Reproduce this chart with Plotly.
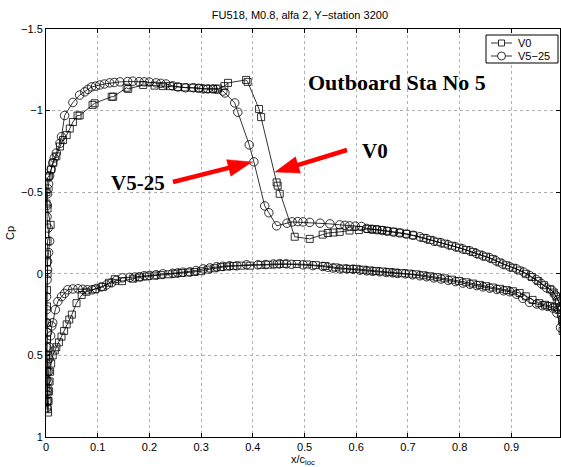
import math
import plotly.graph_objects as go

# ---------------- data ----------------
v525_x = [0.999, 0.995, 0.99, 0.985, 0.978, 0.968, 0.958, 0.948, 0.936, 0.924, 0.91, 0.897, 0.883, 0.87,
          0.858, 0.845, 0.832, 0.82, 0.806, 0.792, 0.778, 0.764, 0.75, 0.736, 0.723, 0.71, 0.697, 0.684,
          0.672, 0.66, 0.65, 0.64, 0.63, 0.62, 0.61, 0.598, 0.587, 0.578, 0.568, 0.549, 0.53, 0.51, 0.497,
          0.487, 0.476, 0.466, 0.446, 0.431, 0.423, 0.402, 0.393, 0.371, 0.365, 0.346, 0.342, 0.33, 0.323,
          0.313, 0.304, 0.295, 0.285, 0.27, 0.255, 0.245, 0.232, 0.222, 0.213, 0.2, 0.19, 0.18, 0.168,
          0.158, 0.143, 0.132, 0.123, 0.113, 0.104, 0.096, 0.088, 0.081, 0.075, 0.065, 0.052, 0.036, 0.03,
          0.027, 0.02, 0.016, 0.013, 0.01, 0.007, 0.005, 0.004, 0.003, 0.0025, 0.002, 0.004, 0.007, 0.005,
          0.003, 0.003, 0.002, 0.001, 0.001, 0.001, 0.003, 0.001, 0.001, 0.001, 0.002, 0.002, 0.002,
          0.003, 0.004, 0.005, 0.006, 0.007, 0.009, 0.011, 0.013, 0.018, 0.023, 0.03, 0.036, 0.042, 0.052,
          0.062, 0.071, 0.08, 0.089, 0.097, 0.107, 0.117, 0.127, 0.136, 0.148, 0.162, 0.172, 0.181, 0.19,
          0.2, 0.213, 0.226, 0.245, 0.255, 0.265, 0.278, 0.29, 0.304, 0.317, 0.33, 0.342, 0.355, 0.369,
          0.388, 0.41, 0.425, 0.44, 0.452, 0.465, 0.475, 0.497, 0.516, 0.535, 0.545, 0.555, 0.568, 0.581,
          0.594, 0.607, 0.62, 0.632, 0.645, 0.658, 0.67, 0.68, 0.695, 0.709, 0.723, 0.736, 0.75, 0.764,
          0.778, 0.792, 0.806, 0.82, 0.833, 0.845, 0.858, 0.872, 0.885, 0.897, 0.91, 0.922, 0.935, 0.949,
          0.96, 0.97, 0.98, 0.988, 0.995, 0.999]
v525_cp = [0.3, 0.2, 0.16, 0.13, 0.1, 0.086, 0.06, 0.035, 0.012, -0.01, -0.03, -0.043, -0.06, -0.08,
           -0.098, -0.11, -0.125, -0.14, -0.152, -0.165, -0.178, -0.19, -0.2, -0.215, -0.227, -0.236, -0.243,
           -0.25, -0.255, -0.26, -0.265, -0.27, -0.273, -0.278, -0.29, -0.292, -0.294, -0.297, -0.3, -0.306,
           -0.31, -0.315, -0.318, -0.32, -0.318, -0.31, -0.294, -0.374, -0.416, -0.686, -0.79, -0.99, -1.047,
           -1.108, -1.12, -1.13, -1.133, -1.133, -1.133, -1.137, -1.14, -1.14, -1.145, -1.152, -1.163,
           -1.167, -1.17, -1.175, -1.176, -1.177, -1.18, -1.178, -1.176, -1.172, -1.17, -1.163, -1.157,
           -1.15, -1.145, -1.13, -1.115, -1.095, -1.05, -0.97, -0.84, -0.8, -0.74, -0.71, -0.68, -0.64,
           -0.6, -0.55, -0.52, -0.49, -0.42, -0.35, -0.28, -0.2, -0.13, -0.075, -0.025, 0.037, 0.14, 0.22,
           0.3, 0.36, 0.45, 0.55, 0.65, 0.74, 0.82, 0.78, 0.72, 0.66, 0.6, 0.52, 0.45, 0.38, 0.32, 0.3,
           0.22, 0.17, 0.14, 0.12, 0.098, 0.093, 0.092, 0.095, 0.098, 0.098, 0.09, 0.08, 0.068, 0.055, 0.04,
           0.025, 0.022, 0.02, 0.018, 0.012, 0.01, 0.006, 0.0, -0.003, -0.006, -0.01, -0.012, -0.02, -0.03,
           -0.036, -0.043, -0.046, -0.049, -0.049, -0.055, -0.055, -0.057, -0.06, -0.062, -0.061, -0.058,
           -0.055, -0.05, -0.045, -0.04, -0.035, -0.03, -0.03, -0.028, -0.022, -0.018, -0.015, -0.012,
           -0.008, -0.006, -0.002, 0.0, 0.006, 0.012, 0.018, 0.025, 0.032, 0.04, 0.048, 0.057, 0.064, 0.072,
           0.08, 0.088, 0.096, 0.104, 0.11, 0.125, 0.15, 0.175, 0.185, 0.195, 0.2, 0.21, 0.24, 0.33]

v0_x = [0.999, 0.996, 0.992, 0.987, 0.982, 0.975, 0.963, 0.952, 0.94, 0.928, 0.916, 0.903, 0.89, 0.877,
        0.864, 0.851, 0.838, 0.826, 0.813, 0.799, 0.785, 0.771, 0.757, 0.743, 0.73, 0.71, 0.697, 0.684,
        0.672, 0.66, 0.65, 0.64, 0.631, 0.622, 0.605, 0.587, 0.568, 0.556, 0.545, 0.535, 0.51, 0.481,
        0.452, 0.448, 0.446, 0.416, 0.412, 0.39, 0.387, 0.352, 0.345, 0.333, 0.323, 0.31, 0.296, 0.282,
        0.268, 0.255, 0.24, 0.226, 0.21, 0.188, 0.159, 0.156, 0.13, 0.127, 0.094, 0.09, 0.065, 0.061,
        0.052, 0.046, 0.04, 0.033, 0.027, 0.02, 0.014, 0.01, 0.006, 0.003, 0.001, 0.001, 0.003, 0.009,
        0.003, 0.002, 0.002, 0.003, 0.002, 0.002, 0.002, 0.002, 0.003, 0.003, 0.003, 0.003, 0.003, 0.004,
        0.005, 0.006, 0.007, 0.008, 0.01, 0.013, 0.017, 0.02, 0.025, 0.03, 0.035, 0.04, 0.045, 0.05,
        0.059, 0.069, 0.078, 0.095, 0.11, 0.122, 0.133, 0.147, 0.168, 0.18, 0.195, 0.21, 0.222, 0.237,
        0.25, 0.262, 0.275, 0.287, 0.3, 0.313, 0.326, 0.338, 0.35, 0.362, 0.378, 0.395, 0.415, 0.43,
        0.447, 0.46, 0.485, 0.505, 0.522, 0.54, 0.56, 0.575, 0.588, 0.6, 0.614, 0.626, 0.638, 0.651,
        0.664, 0.676, 0.688, 0.702, 0.716, 0.73, 0.743, 0.757, 0.771, 0.785, 0.799, 0.813, 0.826, 0.839,
        0.851, 0.864, 0.878, 0.891, 0.903, 0.916, 0.928, 0.941, 0.954, 0.965, 0.975, 0.984, 0.991, 0.997,
        0.999]
v0_cp = [0.28, 0.22, 0.17, 0.14, 0.115, 0.095, 0.07, 0.045, 0.02, 0.0, -0.02, -0.037, -0.052, -0.07,
         -0.09, -0.105, -0.118, -0.133, -0.146, -0.16, -0.172, -0.185, -0.196, -0.208, -0.22, -0.236,
         -0.245, -0.252, -0.258, -0.263, -0.268, -0.271, -0.273, -0.275, -0.268, -0.265, -0.257, -0.253,
         -0.25, -0.24, -0.214, -0.227, -0.49, -0.54, -0.56, -0.96, -1.01, -1.176, -1.188, -1.17, -1.15,
         -1.135, -1.133, -1.133, -1.137, -1.14, -1.142, -1.145, -1.15, -1.15, -1.153, -1.157, -1.133,
         -1.14, -1.085, -1.085, -1.045, -1.035, -0.97, -0.97, -0.93, -0.89, -0.85, -0.82, -0.78, -0.72,
         -0.68, -0.64, -0.6, -0.59, -0.5, -0.43, -0.4, -0.3, -0.2, -0.12, -0.07, 0.0, 0.1, 0.2, 0.3, 0.4,
         0.5, 0.6, 0.7, 0.78, 0.83, 0.85, 0.78, 0.72, 0.66, 0.6, 0.55, 0.5, 0.47, 0.45, 0.42, 0.385, 0.35,
         0.31, 0.28, 0.25, 0.18, 0.13, 0.11, 0.095, 0.08, 0.055, 0.033, 0.045, 0.03, 0.022, 0.016, 0.011,
         0.008, 0.003, -0.001, -0.005, -0.008, -0.011, -0.016, -0.026, -0.034, -0.041, -0.045, -0.048,
         -0.05, -0.05, -0.055, -0.056, -0.058, -0.061, -0.06, -0.057, -0.053, -0.048, -0.039, -0.032,
         -0.03, -0.03, -0.025, -0.02, -0.017, -0.014, -0.01, -0.007, -0.004, -0.001, 0.003, 0.009, 0.015,
         0.021, 0.028, 0.036, 0.044, 0.052, 0.06, 0.068, 0.076, 0.084, 0.092, 0.1, 0.107, 0.118, 0.138,
         0.16, 0.18, 0.19, 0.197, 0.205, 0.22, 0.25, 0.35]

x_ticks = [0, 0.1, 0.2, 0.3, 0.4, 0.5, 0.6, 0.7, 0.8, 0.9]
y_ticks = [-1.5, -1, -0.5, 0, 0.5, 1]
y_ticklabels = ["\u22121.5", "\u22121", "\u22120.5", "0", "0.5", "1"]

title_text = "FU518, M0.8, alfa 2, Y\u2212station 3200"
x_title = "x/c<sub>loc</sub>"
y_title = "Cp"
series_names = ["V0", "V5\u221225"]

# ---------------- layout geometry (pixels) ----------------
W, H = 561, 467
ML, MR, MT, MB = 46, 1, 29, 30
PW, PH = W - ML - MR, H - MT - MB


def px2x(px):
    return (px - ML) / PW


def py2y(py):
    return (H - MB - py) / PH


font_sans = "Liberation Sans, Arial"
font_serif = "Liberation Serif, Times New Roman"

# ---------------- figure ----------------
fig = go.Figure()
fig.add_trace(go.Scatter(
    x=v0_x, y=v0_cp, name=series_names[0], mode="lines+markers",
    line=dict(color="black", width=0.8),
    marker=dict(symbol="square-open", size=7, color="black", line=dict(width=0.8)),
))
fig.add_trace(go.Scatter(
    x=v525_x, y=v525_cp, name=series_names[1], mode="lines+markers",
    line=dict(color="black", width=0.8),
    marker=dict(symbol="circle-open", size=8.5, color="black", line=dict(width=0.8)),
))

axis_common = dict(
    showline=True, linecolor="black", linewidth=1, mirror="ticks",
    ticks="inside", ticklen=4, tickcolor="black",
    showgrid=True, gridcolor="#b0b0b0", griddash="dot", gridwidth=1,
    zeroline=False, automargin=False,
    tickfont=dict(family=font_sans, size=11, color="black"),
)

fig.update_xaxes(range=[0, 0.994], tickvals=x_ticks, ticktext=[str(t) for t in x_ticks],
                 title=dict(text=x_title, standoff=1, font=dict(family=font_sans, size=11, color="black")),
                 **axis_common)
fig.update_yaxes(range=[1, -1.5], autorange=False, tickvals=y_ticks, ticktext=y_ticklabels,
                 title=dict(text=y_title, standoff=4, font=dict(family=font_sans, size=11, color="black")),
                 **axis_common)

annotations = [
    dict(text="<b>Outboard Sta No 5</b>", x=0.679, y=-1.171, xref="x", yref="y", showarrow=False,
         font=dict(family=font_serif, size=22, color="black"), xanchor="center", yanchor="middle"),
    dict(text="<b>V0</b>", x=0.636, y=-0.753, xref="x", yref="y", showarrow=False,
         font=dict(family=font_serif, size=21, color="black"), xanchor="center", yanchor="middle"),
    dict(text="<b>V5-25</b>", x=0.177, y=-0.557, xref="x", yref="y", showarrow=False,
         font=dict(family=font_serif, size=21, color="black"), xanchor="center", yanchor="middle"),
]

shapes = []


# ---------------- red pointer arrows (pixel geometry -> paper) ----------------
def add_arrow(tail, tip, width=4.5, head_len=24, head_half=8.5):
    dx, dy = tip[0] - tail[0], tip[1] - tail[1]
    L = math.hypot(dx, dy)
    ux, uy = dx / L, dy / L
    nx, ny = -uy, ux
    bx, by = tip[0] - ux * head_len, tip[1] - uy * head_len
    shapes.append(dict(type="line", xref="paper", yref="paper",
                       x0=px2x(tail[0]), y0=py2y(tail[1]), x1=px2x(bx + ux * 2), y1=py2y(by + uy * 2),
                       line=dict(color="#ff0000", width=width), layer="above"))
    p1 = (bx + nx * head_half, by + ny * head_half)
    p2 = (bx - nx * head_half, by - ny * head_half)
    path = "M {} {} L {} {} L {} {} Z".format(px2x(tip[0]), py2y(tip[1]), px2x(p1[0]), py2y(p1[1]),
                                              px2x(p2[0]), py2y(p2[1]))
    shapes.append(dict(type="path", xref="paper", yref="paper", path=path,
                       fillcolor="#ff0000", line=dict(color="#ff0000", width=0.5), layer="above"))


add_arrow((173, 182), (252, 162))
add_arrow((347, 150), (275, 172))

# ---------------- compact Matlab-style legend ----------------
leg_rows = [43, 56]
shapes.append(dict(type="rect", xref="paper", yref="paper",
                   x0=px2x(486), x1=px2x(558), y0=py2y(63), y1=py2y(35),
                   line=dict(color="black", width=1), fillcolor="white", layer="above"))
for i, row in enumerate(leg_rows):
    shapes.append(dict(type="line", xref="paper", yref="paper",
                       x0=px2x(491), x1=px2x(512), y0=py2y(row), y1=py2y(row),
                       line=dict(color="black", width=0.8), layer="above"))
    half = 3 if i == 0 else 4
    shapes.append(dict(type="rect" if i == 0 else "circle", xref="paper", yref="paper",
                       x0=px2x(501.5 - half), x1=px2x(501.5 + half),
                       y0=py2y(row + half), y1=py2y(row - half),
                       line=dict(color="black", width=0.8), fillcolor="white", layer="above"))
    annotations.append(dict(text=series_names[i], x=px2x(516), y=py2y(row), xref="paper", yref="paper",
                            showarrow=False, xanchor="left", yanchor="middle",
                            font=dict(family=font_sans, size=11, color="black")))

fig.update_layout(
    width=W, height=H,
    margin=dict(l=ML, r=MR, t=MT, b=MB, pad=0),
    paper_bgcolor="white", plot_bgcolor="white",
    showlegend=False,
    title=dict(text=title_text, x=0.494, xref="paper", xanchor="center",
               y=(H - 15) / H, yref="container", yanchor="middle",
               font=dict(family=font_sans, size=11, color="black")),
    annotations=annotations,
    shapes=shapes,
)

fig.write_html("out.html")
